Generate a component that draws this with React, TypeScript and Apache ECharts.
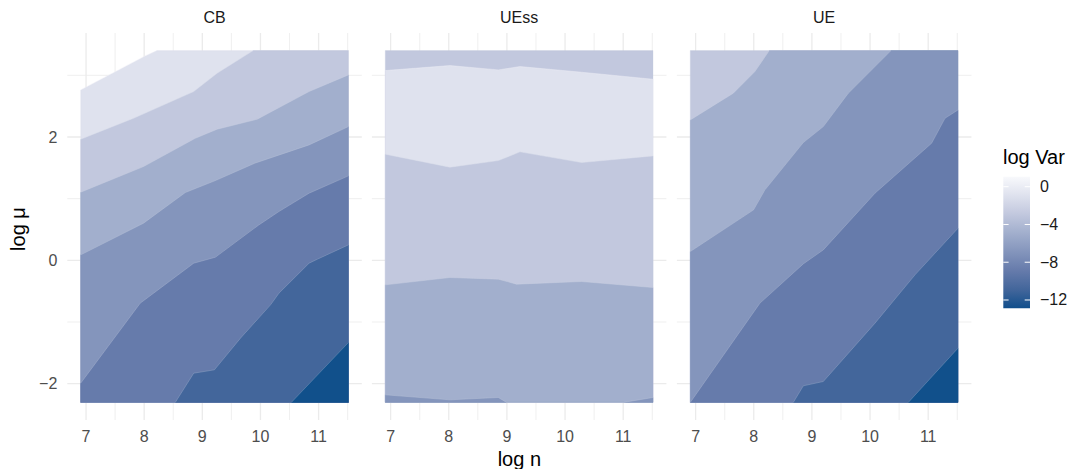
import React, { useEffect, useRef } from 'react';
import * as echarts from 'echarts';

// ---- data domain (log n from 1e3 to 1e5, log mu from 0.1 to 30) ----
const X0 = 6.908;
const X1 = 11.513;
const Y0 = -2.303;
const Y1 = 3.401;

const panelNames = ['CB', 'UEss', 'UE'];

// band colours, light -> dark
const palette = ['#DFE2EE', '#C2C8DE', '#A2AFCD', '#8495BC', '#667BAB', '#43669B', '#11508B'];

// Contour boundaries: region below/right of each line is filled with the given band
const cbContours: number[][][] = [
  [[X0, 2.764], [8.018, 3.315], [8.219, Y1]],
  [[X0, 1.964], [7.817, 2.304], [8.852, 2.737], [9.254, 3.034], [9.875, Y1]],
  [[X0, 1.105], [7.989, 1.521], [8.88, 1.98], [9.254, 2.126], [9.944, 2.288], [10.836, 2.737], [X1, 3.007]],
  [[X0, 0.089], [7.989, 0.603], [8.708, 1.1], [9.225, 1.294], [9.902, 1.575], [10.836, 1.872], [X1, 2.169]],
  [[X0, -1.991], [7.932, -0.694], [8.852, -0.046], [9.225, 0.051], [9.973, 0.575], [10.318, 0.792], [10.836, 1.089], [X1, 1.37]],
  [[8.535, Y0], [8.852, -1.829], [9.208, -1.775], [9.657, -1.261], [10.174, -0.721], [10.318, -0.532], [10.836, -0.046], [10.979, 0.019], [X1, 0.251]],
  [[10.531, Y0], [X1, -1.332]],
];
const cbBands = [0, 1, 2, 3, 4, 5, 6];

const uessContours: number[][][] = [
  [[X0, Y1], [X1, Y1]],
  [[X0, 3.077], [8.02, 3.158], [8.852, 3.088], [9.225, 3.142], [10.285, 3.05], [X1, 2.936]],
  [[X0, 1.721], [8.02, 1.51], [8.852, 1.618], [9.225, 1.759], [10.285, 1.586], [X1, 1.694]],
  [[X0, -0.397], [8.02, -0.278], [8.852, -0.305], [9.167, -0.386], [10.285, -0.343], [X1, -0.44]],
  [[X0, -2.18], [8.02, -2.261], [8.852, -2.223], [8.995, Y0], [11.002, Y0], [X1, -2.223]],
];
const uessBands = [1, 0, 1, 2, 3];

const ueContours: number[][][] = [
  [[X0, Y1], [X1, Y1]],
  [[X0, 2.277], [7.648, 2.71], [8.02, 3.061], [8.267, Y1]],
  [[X0, 0.143], [7.997, 0.819], [8.192, 1.143], [8.852, 1.91], [9.196, 2.169], [9.626, 2.71], [10.36, Y1]],
  [[X0, Y0], [8.106, -0.694], [8.852, -0.057], [9.196, 0.17], [10.085, 1.089], [11.059, 1.899], [11.289, 2.304], [X1, 2.439]],
  [[8.68, Y0], [8.852, -2.034], [9.196, -1.964], [10.085, -1.018], [10.773, -0.235], [X1, 0.521]],
  [[10.658, Y0], [X1, -1.423]],
];
const ueBands = [1, 2, 3, 4, 5, 6];

const panelContours = [cbContours, uessContours, ueContours];
const panelBands = [cbBands, uessBands, ueBands];

// axis breaks
const xMajor = [7, 8, 9, 10, 11];
const xMinor = [7.5, 8.5, 9.5, 10.5, 11.5];
const yMajor = [-2, 0, 2];
const yMinor = [-1, 1, 3];

// legend
const legendTicks = [0, -4, -8, -12];
const legendMin = -12.88;
const legendMax = 1.06;

const FONT = '"Liberation Sans", Arial, Helvetica, sans-serif';

const xPad = (X1 - X0) * 0.05;
const yPad = (Y1 - Y0) * 0.05;

const minusFmt = (v: number) => (v < 0 ? '\u2212' + Math.abs(v) : String(v));

function closePolygon(line: number[][]) {
  const pts = line.slice();
  const start = line[0];
  const end = line[line.length - 1];
  if (end[1] >= Y1 - 1e-9 && end[0] < X1 - 1e-9) pts.push([X1, Y1]);
  pts.push([X1, Y0]);
  if (start[0] <= X0 + 1e-9 && start[1] > Y0 + 1e-9) pts.push([X0, Y0]);
  return pts;
}

const isEdgeOnly = (line: number[][]) => line.every((p) => Math.abs(p[1] - Y1) < 1e-9);

const gridLefts = [67.3, 371.9, 676.9];
const gridTop = 33;
const gridW = 294.5;
const gridH = 387;

// legend geometry
const barX = 1003.3;
const barTop = 176.7;
const barW = 26.7;
const barH = 131.6;
const legendY = (v: number) => barTop + ((legendMax - v) / (legendMax - legendMin)) * barH;

function buildOption() {
  const grid = gridLefts.map((l) => ({ left: l, top: gridTop, width: gridW, height: gridH }));
  const xAxis = gridLefts.map((_, i) => ({
    gridIndex: i,
    type: 'value',
    min: X0 - xPad,
    max: X1 + xPad,
    axisLine: { show: false },
    axisTick: { show: false },
    splitLine: { show: false },
    axisLabel: {
      customValues: xMajor,
      color: '#4D4D4D',
      fontSize: 16,
      fontFamily: FONT,
      margin: 8,
      formatter: (v: number) => minusFmt(v),
    },
  }));
  const yAxis = gridLefts.map((_, i) => ({
    gridIndex: i,
    type: 'value',
    min: Y0 - yPad,
    max: Y1 + yPad,
    axisLine: { show: false },
    axisTick: { show: false },
    splitLine: { show: false },
    axisLabel: {
      show: i === 0,
      customValues: yMajor,
      color: '#4D4D4D',
      fontSize: 16,
      fontFamily: FONT,
      margin: 10,
      formatter: (v: number) => minusFmt(v),
    },
  }));

  const gridData: number[][] = [
    ...xMajor.map((v) => [v, 0, 1, 1]),
    ...xMinor.map((v) => [v, 0, 1, 0]),
    ...yMajor.map((v) => [7, v, 0, 1]),
    ...yMinor.map((v) => [7, v, 0, 0]),
  ];

  const series: any[] = [];
  gridLefts.forEach((_, i) => {
    series.push({
      type: 'custom',
      xAxisIndex: i,
      yAxisIndex: i,
      z: 1,
      silent: true,
      data: gridData,
      renderItem: (params: any, api: any) => {
        const cs = params.coordSys;
        const vertical = api.value(2) === 1;
        const major = api.value(3) === 1;
        const p = api.coord([api.value(0), api.value(1)]);
        const shape = vertical
          ? { x1: p[0], y1: cs.y, x2: p[0], y2: cs.y + cs.height }
          : { x1: cs.x, y1: p[1], x2: cs.x + cs.width, y2: p[1] };
        return {
          type: 'line',
          shape,
          style: { stroke: '#EBEBEB', lineWidth: major ? 1.3 : 0.8 },
        };
      },
    });
    const contours = panelContours[i];
    const bands = panelBands[i];
    series.push({
      type: 'custom',
      xAxisIndex: i,
      yAxisIndex: i,
      z: 2,
      silent: true,
      data: contours.map((_, j) => [X0, Y0, j]),
      renderItem: (params: any, api: any) => {
        const j = params.dataIndex;
        const line = contours[j];
        const pts = closePolygon(line).map((p) => api.coord(p));
        const col = palette[bands[j]];
        const children: any[] = [
          {
            type: 'polygon',
            shape: { points: pts },
            style: { fill: col, stroke: col, lineWidth: 0.3 },
          },
        ];
        if (!isEdgeOnly(line)) {
          children.push({
            type: 'polyline',
            shape: { points: line.map((p) => api.coord(p)) },
            style: { fill: 'none', stroke: 'rgba(255,255,255,0.28)', lineWidth: 0.7 },
          });
        }
        return { type: 'group', children };
      },
    });
  });

  const graphic: any[] = [];
  panelNames.forEach((name, i) => {
    graphic.push({
      type: 'text',
      x: gridLefts[i] + gridW / 2,
      y: 17.5,
      style: {
        text: name,
        fill: '#1A1A1A',
        font: `16px ${FONT}`,
        align: 'center',
        verticalAlign: 'middle',
        textAlign: 'center',
        textVerticalAlign: 'middle',
      },
    });
  });
  graphic.push({
    type: 'text',
    x: (gridLefts[0] + gridLefts[2] + gridW) / 2,
    y: 459,
    style: {
      text: 'log n',
      fill: '#000',
      font: `20px ${FONT}`,
      align: 'center',
      verticalAlign: 'middle',
      textAlign: 'center',
      textVerticalAlign: 'middle',
    },
  });
  graphic.push({
    type: 'text',
    x: 18,
    y: 229,
    rotation: Math.PI / 2,
    style: {
      text: 'log \u03bc',
      fill: '#000',
      font: `20px ${FONT}`,
      align: 'center',
      verticalAlign: 'middle',
      textAlign: 'center',
      textVerticalAlign: 'middle',
    },
  });
  // legend
  graphic.push({
    type: 'text',
    x: 1003,
    y: 157,
    style: {
      text: 'log Var',
      fill: '#000',
      font: `20px ${FONT}`,
      align: 'left',
      verticalAlign: 'middle',
      textAlign: 'left',
      textVerticalAlign: 'middle',
    },
  });
  const stopT = [0.139, 0.283, 0.426, 0.57, 0.713, 0.857];
  graphic.push({
    type: 'rect',
    shape: { x: barX, y: barTop, width: barW, height: barH },
    style: {
      fill: new echarts.graphic.LinearGradient(0, 0, 0, 1, [
        { offset: 0, color: '#F8F9FC' },
        ...stopT.map((o, k) => ({ offset: o, color: palette[k] })),
        { offset: 1, color: '#104E8B' },
      ]),
    },
  });
  legendTicks.forEach((v) => {
    const y = legendY(v);
    graphic.push({
      type: 'line',
      shape: { x1: barX, y1: y, x2: barX + 5.3, y2: y },
      style: { stroke: '#FFFFFF', lineWidth: 1 },
    });
    graphic.push({
      type: 'line',
      shape: { x1: barX + barW - 5.3, y1: y, x2: barX + barW, y2: y },
      style: { stroke: '#FFFFFF', lineWidth: 1 },
    });
    graphic.push({
      type: 'text',
      x: 1040,
      y,
      style: {
        text: minusFmt(v),
        fill: '#1A1A1A',
        font: `16px ${FONT}`,
        align: 'left',
        verticalAlign: 'middle',
        textAlign: 'left',
        textVerticalAlign: 'middle',
      },
    });
  });

  return {
    animation: false,
    backgroundColor: '#FFFFFF',
    grid,
    xAxis,
    yAxis,
    series,
    graphic,
  };
}

export default function App() {
  const ref = useRef<HTMLDivElement>(null);
  useEffect(() => {
    if (!ref.current) return;
    const chart = echarts.init(ref.current, null, { renderer: 'svg' });
    chart.setOption(buildOption() as any);
    return () => {
      chart.dispose();
    };
  }, []);
  return (
    <div
      ref={ref}
      style={{ position: 'fixed', left: 0, top: 0, width: 1071, height: 469, background: '#fff' }}
    />
  );
}
